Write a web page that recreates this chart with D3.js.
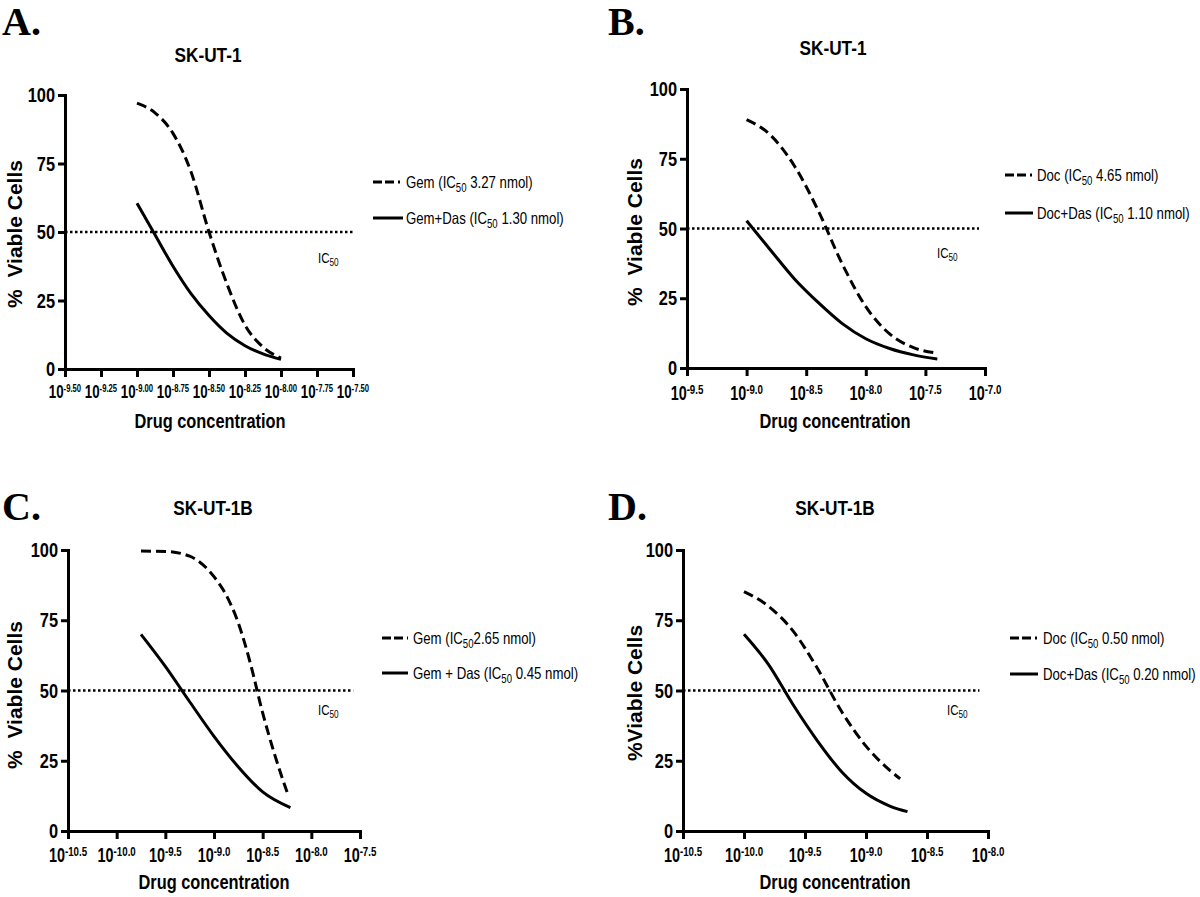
<!DOCTYPE html>
<html><head><meta charset="utf-8">
<script src="https://cdn.jsdelivr.net/npm/d3@7"></script>
<style>
body{margin:0;background:#fff;}
svg{display:block;}
</style></head><body>
<svg id="chart" width="1200" height="897"></svg>
<script>
// ---------- data ----------
const yTicks = [0, 25, 50, 75, 100];

// Panel A (SK-UT-1, Gem)
const aTicks = [-9.5, -9.25, -9.0, -8.75, -8.5, -8.25, -8.0, -7.75, -7.5];
const aTickLabels = ["-9.50", "-9.25", "-9.00", "-8.75", "-8.50", "-8.25", "-8.00", "-7.75", "-7.50"];
const aConc = [-9.0, -8.875, -8.75, -8.625, -8.5, -8.375, -8.25, -8.125, -8.0];
const aGem = [97, 93.5, 86, 72, 50, 31, 16, 8, 4];
const aGemDas = [60.5, 49, 37.5, 27.5, 19.5, 13, 8.5, 5.5, 3.5];
const aLegend = [["Gem (IC", "50", " 3.27 nmol)"], ["Gem+Das (IC", "50", " 1.30 nmol)"]];

// Panel B (SK-UT-1, Doc)
const bTicks = [-9.5, -9.0, -8.5, -8.0, -7.5, -7.0];
const bTickLabels = ["-9.5", "-9.0", "-8.5", "-8.0", "-7.5", "-7.0"];
const bConc = [-9.0, -8.8, -8.6, -8.4, -8.2, -8.0, -7.8, -7.6, -7.4];
const bDoc = [89, 83.5, 72.5, 56.5, 37.5, 22, 12.2, 7.3, 5.3];
const bDocDas = [52.8, 42.3, 32, 23.5, 16, 10.5, 7, 4.7, 3.2];
const bLegend = [["Doc (IC", "50", " 4.65 nmol)"], ["Doc+Das (IC", "50", " 1.10 nmol)"]];

// Panel C (SK-UT-1B, Gem)
const cTicks = [-10.5, -10.0, -9.5, -9.0, -8.5, -8.0, -7.5];
const cTickLabels = ["-10.5", "-10.0", "-9.5", "-9.0", "-8.5", "-8.0", "-7.5"];
const cGemConc = [-9.75, -9.5, -9.25, -9.0, -8.875, -8.75, -8.625, -8.5, -8.375, -8.245];
const cGem = [99.6, 99.5, 97.8, 90.5, 84, 74, 59.5, 42, 27, 13.4];
const cGemDasConc = [-9.75, -9.5, -9.25, -9.0, -8.75, -8.5, -8.215];
const cGemDas = [70, 58.6, 46, 33.7, 22.8, 13.9, 8.3];
const cLegend = [["Gem (IC", "50", "2.65 nmol)"], ["Gem + Das (IC", "50", " 0.45 nmol)"]];

// Panel D (SK-UT-1B, Doc)
const dTicks = [-10.5, -10.0, -9.5, -9.0, -8.5, -8.0];
const dTickLabels = ["-10.5", "-10.0", "-9.5", "-9.0", "-8.5", "-8.0"];
const dDocConc = [-10.0, -9.8, -9.6, -9.4, -9.2, -9.0, -8.8, -8.72];
const dDoc = [85.2, 80, 71.3, 58, 42.5, 30.2, 21.4, 18.6];
const dDocDasConc = [-10.0, -9.8, -9.6, -9.4, -9.2, -9.0, -8.8, -8.66];
const dDocDas = [70, 59.3, 45.1, 32.2, 21.1, 13.4, 8.8, 6.9];
const dLegend = [["Doc (IC", "50", " 0.50 nmol)"], ["Doc+Das (IC", "50", " 0.20 nmol)"]];

const letters = ["A.", "B.", "C.", "D."];
const titles = ["SK-UT-1", "SK-UT-1", "SK-UT-1B", "SK-UT-1B"];
const yLabels = ["%  Viable Cells", "%  Viable Cells", "%  Viable Cells", "%Viable Cells"];
const xLabel = "Drug concentration";

// ---------- layout ----------
const SANS = "'Liberation Sans',Arial,Helvetica,sans-serif";
const SERIF = "'Liberation Serif','Times New Roman',serif";
const NARROW_SCALE = 0.82;

const panels = [
  {letter: letters[0], title: titles[0], yLabel: yLabels[0],
   left: 65, right: 353, top: 95, bottom: 369, xDomain: [-9.5, -7.5],
   ticks: aTicks, tickLabels: aTickLabels, baseSize: 19, supSize: 11, tickSx: 0.7, supDy: -6, tickLabelY: 398,
   titleX: 208, titleY: 62, letterX: 2, letterY: 35, yLabelX: 22, yLabelY: 234,
   xLabelX: 210, xLabelY: 428, icX: 318, icY: 263, icFrom: -9.5, icTo: -7.5,
   legX0: 373, legX1: 403, legTextX: 406, legY: [182, 218], legend: aLegend,
   series: [{x: aConc, y: aGem, dashed: true}, {x: aConc, y: aGemDas, dashed: false}]},
  {letter: letters[1], title: titles[1], yLabel: yLabels[1],
   left: 687, right: 985, top: 89, bottom: 368, xDomain: [-9.5, -7.0],
   ticks: bTicks, tickLabels: bTickLabels, baseSize: 20, supSize: 13.5, tickSx: 0.72, supDy: -6, tickLabelY: 400,
   titleX: 833, titleY: 55, letterX: 608, letterY: 35, yLabelX: 642, yLabelY: 232,
   xLabelX: 835, xLabelY: 428, icX: 937, icY: 258, icFrom: -9.5, icTo: -7.05,
   legX0: 1005, legX1: 1033, legTextX: 1037, legY: [175, 213], legend: bLegend,
   series: [{x: bConc, y: bDoc, dashed: true}, {x: bConc, y: bDocDas, dashed: false}]},
  {letter: letters[2], title: titles[2], yLabel: yLabels[2],
   left: 68, right: 360, top: 550, bottom: 831, xDomain: [-10.5, -7.5],
   ticks: cTicks, tickLabels: cTickLabels, baseSize: 20, supSize: 13.5, tickSx: 0.72, supDy: -6, tickLabelY: 862,
   titleX: 213, titleY: 515, letterX: 2, letterY: 520, yLabelX: 22, yLabelY: 695,
   xLabelX: 214, xLabelY: 889, icX: 318, icY: 715, icFrom: -10.5, icTo: -7.57,
   legX0: 382, legX1: 408, legTextX: 413, legY: [638, 673], legend: cLegend,
   series: [{x: cGemConc, y: cGem, dashed: true}, {x: cGemDasConc, y: cGemDas, dashed: false}]},
  {letter: letters[3], title: titles[3], yLabel: yLabels[3],
   left: 683, right: 988, top: 550, bottom: 831, xDomain: [-10.5, -8.0],
   ticks: dTicks, tickLabels: dTickLabels, baseSize: 20, supSize: 13.5, tickSx: 0.72, supDy: -6, tickLabelY: 862,
   titleX: 835, titleY: 515, letterX: 608, letterY: 520, yLabelX: 642, yLabelY: 693,
   xLabelX: 835, xLabelY: 889, icX: 947, icY: 715, icFrom: -10.5, icTo: -8.07,
   legX0: 1010, legX1: 1038, legTextX: 1043, legY: [638, 674], legend: dLegend,
   series: [{x: dDocConc, y: dDoc, dashed: true}, {x: dDocDasConc, y: dDocDas, dashed: false}]}
];

const svg = d3.select("#chart");
svg.append("rect").attr("width", 1200).attr("height", 897).attr("fill", "#fff");

// condensed text: Liberation Sans squeezed horizontally (Arial Narrow look)
function narrow(parent, x, y, opts) {
  const o = Object.assign({size: 16, weight: "normal", anchor: "start", rotate: 0, sx: NARROW_SCALE}, opts || {});
  const wrap = parent.append("g")
    .attr("transform", `translate(${x},${y})` + (o.rotate ? ` rotate(${o.rotate})` : "") + ` scale(${o.sx},1)`);
  return wrap.append("text").attr("x", 0).attr("y", 0)
    .attr("text-anchor", o.anchor).attr("font-family", SANS)
    .attr("font-weight", o.weight).attr("font-size", o.size).attr("fill", "#000")
    .style("white-space", "pre");
}

function drawPanel(p) {
  const g = svg.append("g");
  const x = d3.scaleLinear().domain(p.xDomain).range([p.left, p.right]);
  const y = d3.scaleLinear().domain([0, 100]).range([p.bottom, p.top]);

  // IC50 dotted line
  g.append("line")
    .attr("x1", x(p.icFrom)).attr("x2", x(p.icTo))
    .attr("y1", y(50)).attr("y2", y(50))
    .attr("stroke", "#000").attr("stroke-width", 2.5)
    .attr("stroke-dasharray", "2.5,2.5");

  // curves
  const line = d3.line().x(d => x(d[0])).y(d => y(d[1])).curve(d3.curveMonotoneX);
  p.series.forEach(s => {
    const pts = s.x.map((v, i) => [v, s.y[i]]);
    g.append("path").attr("d", line(pts))
      .attr("fill", "none").attr("stroke", "#000").attr("stroke-width", 3)
      .attr("stroke-dasharray", s.dashed ? "10,5" : null);
  });

  // axes
  const xa = g.append("g").attr("transform", `translate(0,${p.bottom})`)
    .call(d3.axisBottom(x).tickValues(p.ticks).tickSize(8).tickSizeOuter(0).tickFormat(() => ""));
  const ya = g.append("g").attr("transform", `translate(${p.left},0)`)
    .call(d3.axisLeft(y).tickValues(yTicks).tickSize(7).tickSizeOuter(0).tickFormat(() => ""));
  [xa, ya].forEach(a => {
    a.select(".domain").attr("stroke", "#000").attr("stroke-width", 3).attr("stroke-linecap", "square");
    a.selectAll(".tick line").attr("stroke", "#000").attr("stroke-width", 3);
    a.selectAll(".tick text").remove();
  });

  // y tick labels
  yTicks.forEach(v => {
    narrow(g, p.left - 10, y(v) + 7, {size: 20, weight: "bold", anchor: "end"}).text(String(v));
  });

  // x tick labels 10^n
  p.ticks.forEach((t, i) => {
    const tx = narrow(g, x(t), p.tickLabelY, {size: p.baseSize, weight: "bold", anchor: "middle", sx: p.tickSx});
    tx.append("tspan").text("10");
    tx.append("tspan").attr("dy", p.supDy).attr("font-size", p.supSize).text(p.tickLabels[i]);
  });

  // axis titles
  narrow(g, p.xLabelX, p.xLabelY, {size: 20, weight: "bold", anchor: "middle"}).text(xLabel);
  narrow(g, p.yLabelX, p.yLabelY, {size: 21, weight: "bold", anchor: "middle", rotate: -90, sx: 1})
    .text(p.yLabel);

  // title & letter
  narrow(g, p.titleX, p.titleY, {size: 21, weight: "bold", anchor: "middle"}).text(p.title);
  g.append("text").attr("x", p.letterX).attr("y", p.letterY)
    .attr("font-family", SERIF).attr("font-weight", "bold").attr("font-size", 40).text(p.letter);

  // IC50 label
  const ic = narrow(g, p.icX, p.icY, {size: 14});
  ic.append("tspan").text("IC");
  ic.append("tspan").attr("dy", 3).attr("font-size", 10).text("50");

  // legend
  p.legend.forEach((parts, i) => {
    const ly = p.legY[i];
    g.append("line").attr("x1", p.legX0).attr("x2", p.legX1).attr("y1", ly).attr("y2", ly)
      .attr("stroke", "#000").attr("stroke-width", 3)
      .attr("stroke-dasharray", p.series[i].dashed ? "9,3,9,4,2" : null);
    const t = narrow(g, p.legTextX, ly + 6, {size: 16.5, sx: 0.8});
    t.append("tspan").text(parts[0]);
    t.append("tspan").attr("dy", 4).attr("font-size", 12).text(parts[1]);
    t.append("tspan").attr("dy", -4).text(parts[2]);
  });
}

panels.forEach(drawPanel);
</script>
</body></html>
